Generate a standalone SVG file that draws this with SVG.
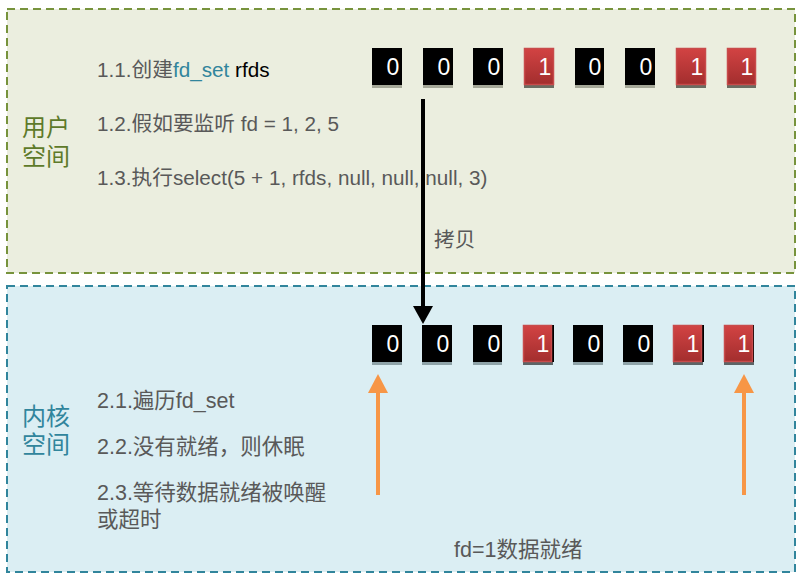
<svg xmlns="http://www.w3.org/2000/svg" width="801" height="579" viewBox="0 0 801 579">
<defs>
<linearGradient id="red" x1="0" y1="0" x2="0" y2="1">
<stop offset="0" stop-color="#d24343"/>
<stop offset="1" stop-color="#a32e2e"/>
</linearGradient>
<style>
.t{font-family:"Liberation Sans","Noto Sans CJK SC",sans-serif;font-size:20.7px;fill:#595959}
.k{font-family:"Liberation Sans","Noto Sans CJK SC",sans-serif;font-size:21.5px;fill:#595959}
.lab{font-family:"Liberation Sans","Noto Sans CJK SC",sans-serif;font-size:24px}
.d{font-family:"Liberation Sans",sans-serif;font-size:23px;fill:#fff;text-anchor:middle}
.blk{fill:#000}
.red{fill:url(#red);stroke:#c84b4b;stroke-width:1.5}
.sh1{fill:#a5a898}
.sh2{fill:#6a6d62}
.sh3{fill:#8fa3a8}
.sh4{fill:#5c6466}
.orange{stroke:#f79646;stroke-width:4;fill:none}
</style>
</defs>

<g id="user-space">
<rect x="7" y="9" width="788" height="264" fill="#ebeedf" stroke="#77933c" stroke-width="2" stroke-dasharray="8,5"/>
<text class="lab" x="22" y="136" fill="#5e7a2a">用户</text>
<text class="lab" x="22" y="165" fill="#5e7a2a">空间</text>
<text class="t" x="97" y="77">1.1.创建<tspan fill="#31859c">fd_set</tspan><tspan fill="#000"> rfds</tspan></text>
<text class="t" x="97" y="131">1.2.假如要监听 fd = 1, 2, 5</text>
<text class="t" x="97" y="185">1.3.执行select(5 + 1, rfds, null, null, null, 3)</text>
</g>

<g id="kernel-space">
<rect x="7" y="286" width="788" height="286" fill="#dbeef3" stroke="#31859c" stroke-width="2" stroke-dasharray="8,5"/>
<text class="lab" x="22" y="425" fill="#31859c">内核</text>
<text class="lab" x="22" y="453" fill="#31859c">空间</text>
<text class="k" x="97" y="408">2.1.遍历fd_set</text>
<text class="k" x="97" y="454">2.2.没有就绪，则休眠</text>
<text class="k" x="97" y="500">2.3.等待数据就绪被唤醒</text>
<text class="k" x="97" y="527">或超时</text>
<text class="k" x="454" y="557">fd=1数据就绪</text>
</g>

<g id="user-bits">
<rect class="sh1" x="372" y="84" width="30" height="4"/><rect class="blk" x="372" y="48" width="30" height="37"/><text class="d" x="393" y="75">0</text>
<rect class="sh1" x="423" y="84" width="30" height="4"/><rect class="blk" x="423" y="48" width="30" height="37"/><text class="d" x="444" y="75">0</text>
<rect class="sh1" x="473" y="84" width="30" height="4"/><rect class="blk" x="473" y="48" width="30" height="37"/><text class="d" x="494" y="75">0</text>
<rect class="sh2" x="524" y="84" width="30" height="4"/><rect class="red" x="524.5" y="48.5" width="29" height="36"/><text class="d" x="545" y="75">1</text>
<rect class="sh1" x="575" y="84" width="29" height="4"/><rect class="blk" x="575" y="48" width="29" height="37"/><text class="d" x="595" y="75">0</text>
<rect class="sh1" x="625" y="84" width="30" height="4"/><rect class="blk" x="625" y="48" width="30" height="37"/><text class="d" x="646" y="75">0</text>
<rect class="sh2" x="676" y="84" width="30" height="4"/><rect class="red" x="676.5" y="48.5" width="29" height="36"/><text class="d" x="697" y="75">1</text>
<rect class="sh2" x="727" y="84" width="29" height="4"/><rect class="red" x="727.5" y="48.5" width="28" height="36"/><text class="d" x="747" y="75">1</text>
</g>

<g id="kernel-bits">
<rect class="sh3" x="372" y="361" width="30" height="4"/><rect class="blk" x="372" y="325" width="30" height="37"/><text class="d" x="393" y="352">0</text>
<rect class="sh3" x="422" y="361" width="30" height="4"/><rect class="blk" x="422" y="325" width="30" height="37"/><text class="d" x="443" y="352">0</text>
<rect class="sh3" x="473" y="361" width="29" height="4"/><rect class="blk" x="473" y="325" width="29" height="37"/><text class="d" x="494" y="352">0</text>
<rect class="sh4" x="523" y="361" width="30" height="4"/><rect class="blk" x="523" y="325" width="31" height="37"/><rect class="red" x="523.5" y="325.5" width="28" height="36"/><text class="d" x="543" y="352">1</text>
<rect class="sh3" x="573" y="361" width="30" height="4"/><rect class="blk" x="573" y="325" width="30" height="37"/><text class="d" x="594" y="352">0</text>
<rect class="sh3" x="623" y="361" width="30" height="4"/><rect class="blk" x="623" y="325" width="30" height="37"/><text class="d" x="644" y="352">0</text>
<rect class="sh4" x="673" y="361" width="30" height="4"/><rect class="blk" x="673" y="325" width="31" height="37"/><rect class="red" x="673.5" y="325.5" width="28" height="36"/><text class="d" x="693" y="352">1</text>
<rect class="sh4" x="724" y="361" width="30" height="4"/><rect class="blk" x="724" y="325" width="30" height="37"/><rect class="red" x="724.5" y="325.5" width="28" height="36"/><text class="d" x="744" y="352">1</text>
</g>

<g id="connectors">
<line x1="423" y1="99" x2="423" y2="308" stroke="#000" stroke-width="4"/>
<path d="M413,306 L433,306 L423,324 Z" fill="#000"/>
<text class="t" x="434" y="247">拷贝</text>
<line class="orange" x1="378" y1="495" x2="378" y2="390"/>
<path d="M368,393 L378,374 L388,393 Z" fill="#f79646"/>
<line class="orange" x1="744" y1="495" x2="744" y2="390"/>
<path d="M734,393 L744,374 L754,393 Z" fill="#f79646"/>
</g>
</svg>
